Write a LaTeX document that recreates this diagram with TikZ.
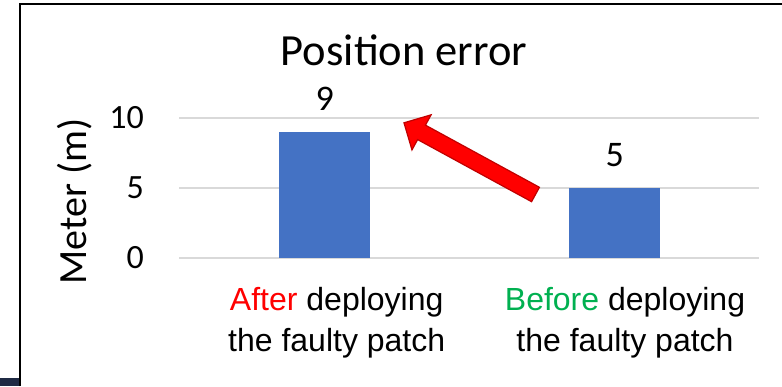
\documentclass[tikz,border=0pt]{standalone}
\usepackage{fontspec}
\setmainfont{Carlito}
\newfontfamily\arialfont{Liberation Sans}
\usetikzlibrary{positioning}
\definecolor{barblue}{RGB}{68,114,196}
\definecolor{gridgray}{RGB}{217,217,217}
\definecolor{arrowred}{RGB}{255,0,0}
\definecolor{arrowedge}{RGB}{192,0,0}
\definecolor{afterred}{RGB}{255,0,0}
\definecolor{beforegreen}{RGB}{0,176,80}
\definecolor{cornernavy}{RGB}{31,42,68}

\begin{document}
\begin{tikzpicture}[x=1pt, y=1pt,
  bar/.style={fill=barblue, minimum width=91pt, inner sep=0, anchor=south},
  catlabel/.style={align=center, anchor=north, inner sep=0, font=\arialfont\fontsize{32}{41}\selectfont}]
  \useasboundingbox (0,0) rectangle (782,386);
  % frame
  \fill[cornernavy] (0,0) rectangle (19,8);
  \draw[black, line width=2pt] (20,0) -- (20,382.2) -- (782,382.2);
  % grid and ticks
  \foreach \v in {0,5,10} {
    \draw[gridgray, line width=1.5pt] (179,128+14*\v) -- (759,128+14*\v);
    \node[anchor=east, inner sep=0, font=\fontsize{34}{40}\selectfont] (tick\v) at (144,128+14*\v) {\v};
  }
  % bars
  \node[bar, minimum height=126pt] (after) at (324.8,128) {};
  \node[bar, minimum height=70pt] (before) at (614.8,128) {};
  \node[anchor=base, font=\fontsize{36}{42}\selectfont] (val9) at ([yshift=21pt]after.north) {9};
  \node[anchor=base, font=\fontsize{36}{42}\selectfont] (val5) at ([yshift=21pt]before.north) {5};
  % titles
  \node[anchor=base, font=\fontsize{44.5}{52}\selectfont] (title) at (404,320.3) {Position error};
  \node[anchor=base, rotate=90, font=\fontsize{40}{46}\selectfont] (ytitle) at (86.5,184.3) {Meter (m)};
  % categories
  \node[catlabel] (aftercat) at (336.7,99) {\textcolor{afterred}{After} deploying\\the faulty patch};
  \node[catlabel] (beforecat) at (625,99) {\textcolor{beforegreen}{Before} deploying\\the faulty patch};
  % block arrow
  \begin{scope}[shift={(535.5,191.5)}, rotate=151.4]
    \draw[arrowedge, fill=arrowred, line width=1.2pt, line join=miter]
      (0,-8.2) -- (129.8,-8.2) -- (129.8,-20) -- (149.8,0) -- (129.8,20) -- (129.8,8.2) -- (0,8.2) -- cycle;
  \end{scope}
\end{tikzpicture}
\end{document}
